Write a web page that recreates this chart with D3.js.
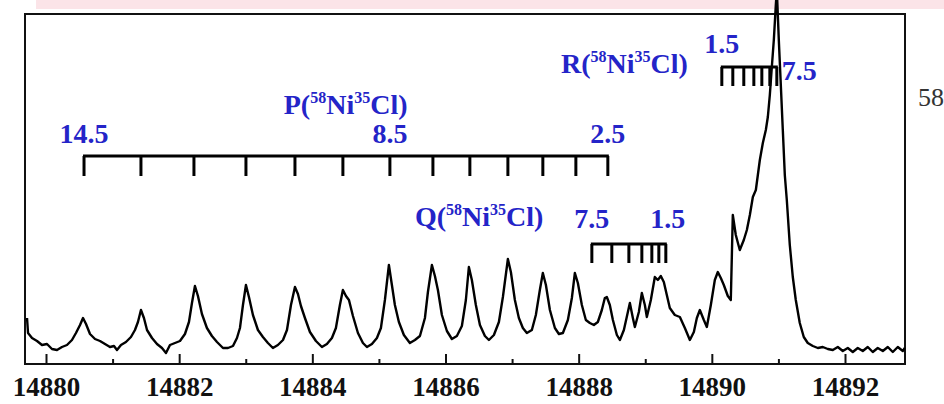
<!DOCTYPE html>
<html>
<head>
<meta charset="utf-8">
<script src="https://cdn.jsdelivr.net/npm/d3@7"></script>
<style>
  body { margin: 0; background: #fff; }
  svg { display: block; }
</style>
</head>
<body>
<div id="chart"></div>
<script>
// LIF spectrum of 58Ni35Cl, wavenumber (cm-1) vs signal (arb. units)
const wavenumber = [
  14879.715, 14879.730, 14879.790, 14879.865, 14879.940, 14880.015, 14880.090, 14880.165, 14880.240, 14880.315,
  14880.390, 14880.450, 14880.511, 14880.556, 14880.601, 14880.661, 14880.736, 14880.811, 14880.886, 14880.961,
  14881.021, 14881.066, 14881.126, 14881.201, 14881.276, 14881.336, 14881.381, 14881.426, 14881.471, 14881.517,
  14881.592, 14881.667, 14881.742, 14881.802, 14881.862, 14881.937, 14882.012, 14882.087, 14882.147, 14882.192,
  14882.237, 14882.282, 14882.342, 14882.417, 14882.492, 14882.568, 14882.658, 14882.733, 14882.808, 14882.868,
  14882.913, 14882.958, 14883.003, 14883.048, 14883.108, 14883.183, 14883.258, 14883.333, 14883.408, 14883.483,
  14883.559, 14883.619, 14883.679, 14883.739, 14883.784, 14883.829, 14883.889, 14883.964, 14884.054, 14884.144,
  14884.219, 14884.294, 14884.354, 14884.414, 14884.459, 14884.505, 14884.550, 14884.610, 14884.685, 14884.760,
  14884.820, 14884.895, 14884.970, 14885.030, 14885.090, 14885.150, 14885.195, 14885.240, 14885.300, 14885.375,
  14885.465, 14885.541, 14885.616, 14885.691, 14885.736, 14885.796, 14885.841, 14885.886, 14885.946, 14886.021,
  14886.096, 14886.171, 14886.246, 14886.306, 14886.351, 14886.396, 14886.456, 14886.517, 14886.592, 14886.652,
  14886.727, 14886.802, 14886.862, 14886.937, 14886.982, 14887.042, 14887.102, 14887.162, 14887.222, 14887.297,
  14887.357, 14887.417, 14887.462, 14887.508, 14887.568, 14887.643, 14887.703, 14887.763, 14887.838, 14887.898,
  14887.943, 14887.988, 14888.048, 14888.108, 14888.168, 14888.228, 14888.288, 14888.348, 14888.393, 14888.423,
  14888.468, 14888.514, 14888.574, 14888.619, 14888.679, 14888.739, 14888.769, 14888.814, 14888.844, 14888.904,
  14888.949, 14888.994, 14889.024, 14889.084, 14889.144, 14889.189, 14889.234, 14889.279, 14889.324, 14889.369,
  14889.444, 14889.520, 14889.595, 14889.670, 14889.730, 14889.775, 14889.820, 14889.880, 14889.925, 14889.985,
  14890.045, 14890.090, 14890.135, 14890.180, 14890.240, 14890.285, 14890.315, 14890.360, 14890.420, 14890.480,
  14890.526, 14890.571, 14890.616, 14890.661, 14890.691, 14890.721, 14890.766, 14890.811, 14890.841, 14890.871,
  14890.901, 14890.931, 14890.961, 14890.976, 14891.006, 14891.036, 14891.066, 14891.096, 14891.126, 14891.171,
  14891.216, 14891.261, 14891.321, 14891.381, 14891.441, 14891.517, 14891.592, 14891.667, 14891.742, 14891.817,
  14891.892, 14891.967, 14892.042, 14892.117, 14892.192, 14892.267, 14892.342, 14892.417, 14892.492, 14892.568,
  14892.643, 14892.718, 14892.793, 14892.868, 14892.898
];
const signal = [
  46, 31, 26, 23, 19, 20, 15, 14, 17, 19,
  24, 31, 39, 46, 40, 30, 25, 23, 20, 17,
  18, 14, 19, 22, 27, 34, 42, 54, 46, 34,
  26, 20, 16, 11, 19, 21, 23, 30, 42, 61,
  78, 68, 50, 36, 28, 22, 16, 16, 18, 26,
  36, 59, 79, 67, 49, 34, 27, 21, 16, 19,
  24, 34, 59, 77, 70, 58, 46, 32, 23, 17,
  20, 26, 36, 59, 74, 68, 64, 48, 31, 21,
  17, 20, 26, 36, 64, 99, 79, 59, 42, 29,
  21, 24, 28, 46, 72, 99, 88, 74, 49, 33,
  25, 28, 38, 64, 97, 84, 59, 39, 28, 24,
  29, 42, 67, 105, 92, 64, 46, 36, 31, 34,
  49, 74, 91, 79, 54, 36, 30, 31, 44, 66,
  91, 81, 59, 44, 41, 39, 42, 54, 66, 67,
  59, 44, 29, 24, 34, 52, 61, 46, 37, 52,
  71, 59, 47, 64, 87, 84, 88, 82, 69, 56,
  49, 47, 36, 24, 32, 46, 54, 44, 37, 59,
  84, 92, 86, 79, 68, 64, 149, 129, 114, 124,
  134, 149, 167, 174, 189, 204, 221, 234, 247, 269,
  297, 324, 359, 374, 324, 279, 234, 189, 164, 119,
  87, 64, 41, 27, 21, 18, 16, 17, 15, 14,
  17, 13, 16, 12, 16, 13, 17, 12, 16, 13,
  17, 12, 17, 13, 16
];

// rotational line assignments
const pLines = [14880.571, 14881.426, 14882.222, 14883.003, 14883.739, 14884.459, 14885.165,
  14885.811, 14886.366, 14886.937, 14887.462, 14887.958, 14888.438];
const pJ = [14.5, 13.5, 12.5, 11.5, 10.5, 9.5, 8.5, 7.5, 6.5, 5.5, 4.5, 3.5, 2.5];
const qLines = [14888.198, 14888.498, 14888.754, 14888.949, 14889.099, 14889.204, 14889.309];
const qJ = [7.5, 6.5, 5.5, 4.5, 3.5, 2.5, 1.5];
const rLines = [14890.150, 14890.315, 14890.480, 14890.631, 14890.751, 14890.871, 14890.976];
const rJ = [1.5, 2.5, 3.5, 4.5, 5.5, 6.5, 7.5];

const majorTicks = [14880, 14882, 14884, 14886, 14888, 14890, 14892];
const minorTicks = [14881, 14883, 14885, 14887, 14889, 14891];

const W = 944, H = 404;
const frame = { left: 25, right: 905, top: 14, bottom: 364 };
const blue = "#2424c8";
const serif = "'Liberation Serif', 'Times New Roman', serif";

const svg = d3.select("#chart").append("svg")
  .attr("width", W)
  .attr("height", H);

// faint pink strip along the top edge (scan artefact)
svg.append("rect")
  .attr("x", 36).attr("y", 0)
  .attr("width", W - 36).attr("height", 9)
  .attr("fill", "#fbe4e8");

const x = d3.scaleLinear().domain([14880, 14892]).range([46, 845]);
const y = d3.scaleLinear().domain([0, 350]).range([frame.bottom, frame.top]);

// frame
svg.append("rect")
  .attr("x", frame.left).attr("y", frame.top)
  .attr("width", frame.right - frame.left)
  .attr("height", frame.bottom - frame.top)
  .attr("fill", "none")
  .attr("stroke", "#111")
  .attr("stroke-width", 2);

// x axis, ticks pointing inward
const axisG = svg.append("g").attr("transform", `translate(0,${frame.bottom})`);
axisG.append("g")
  .call(d3.axisBottom(x).tickValues(minorTicks).tickSize(-5).tickFormat(""))
  .call(g => g.select(".domain").remove());
axisG.append("g")
  .call(d3.axisBottom(x).tickValues(majorTicks).tickSize(-10).tickFormat(d3.format("d")))
  .call(g => g.select(".domain").remove());
axisG.selectAll(".tick line").attr("stroke", "#111").attr("stroke-width", 2);
axisG.selectAll(".tick text")
  .attr("y", 32).attr("dy", 0)
  .attr("fill", "#111")
  .style("font-family", serif)
  .style("font-weight", "bold")
  .style("font-size", "27px");

// spectrum
const line = d3.line()
  .x((d, i) => x(wavenumber[i]))
  .y(d => y(d));

svg.append("path")
  .datum(signal)
  .attr("d", line)
  .attr("fill", "none")
  .attr("stroke", "#000")
  .attr("stroke-width", 2.4)
  .attr("stroke-linejoin", "round");

// assignment combs
function drawComb(lines, level, len) {
  const g = svg.append("g").attr("stroke", "#000").attr("stroke-width", 3);
  const top = y(level);
  g.append("line")
    .attr("x1", x(d3.min(lines)) - 1).attr("x2", x(d3.max(lines)) + 1)
    .attr("y1", top).attr("y2", top);
  g.selectAll(".t").data(lines).enter().append("line")
    .attr("x1", d => x(d)).attr("x2", d => x(d))
    .attr("y1", top).attr("y2", top + len);
}
drawComb(pLines, 208, 20);
drawComb(qLines, 120, 19);
drawComb(rLines, 297, 19);

function label(txt, xp, yp, anchor) {
  svg.append("text")
    .attr("x", xp).attr("y", yp)
    .attr("text-anchor", anchor || "middle")
    .attr("fill", blue)
    .style("font-family", serif)
    .style("font-weight", "bold")
    .style("font-size", "28px")
    .text(txt);
}

// branch name with isotope superscripts
function branch(letter, xp, yp, anchor) {
  const t = svg.append("text")
    .attr("x", xp).attr("y", yp)
    .attr("text-anchor", anchor)
    .attr("fill", blue)
    .style("font-family", serif)
    .style("font-weight", "bold")
    .style("font-size", "28px");
  t.append("tspan").text(letter + "(");
  t.append("tspan").attr("dy", -11).style("font-size", "16px").text("58");
  t.append("tspan").attr("dy", 11).text("Ni");
  t.append("tspan").attr("dy", -11).style("font-size", "16px").text("35");
  t.append("tspan").attr("dy", 11).text("Cl)");
}

branch("P", x(14884.5), 114, "middle");
label(pJ[0], x(pLines[0]), 143);
label(pJ[6], x(pLines[6]), 143);
label(pJ[12], x(pLines[12]), 143);

branch("Q", x(14887.47), 226, "end");
label(qJ[0], x(qLines[0]), 228);
label(qJ[6], x(qLines[6]) + 2, 228);

branch("R", x(14889.64), 73, "end");
label(rJ[0], x(rLines[0]), 53);
label(rJ[6], x(rLines[6]) + 5, 80, "start");

// stray text cut by the right margin
svg.append("text")
  .attr("x", 918).attr("y", 106)
  .attr("fill", "#333")
  .style("font-family", serif)
  .style("font-size", "26px")
  .text("58");
</script>
</body>
</html>
